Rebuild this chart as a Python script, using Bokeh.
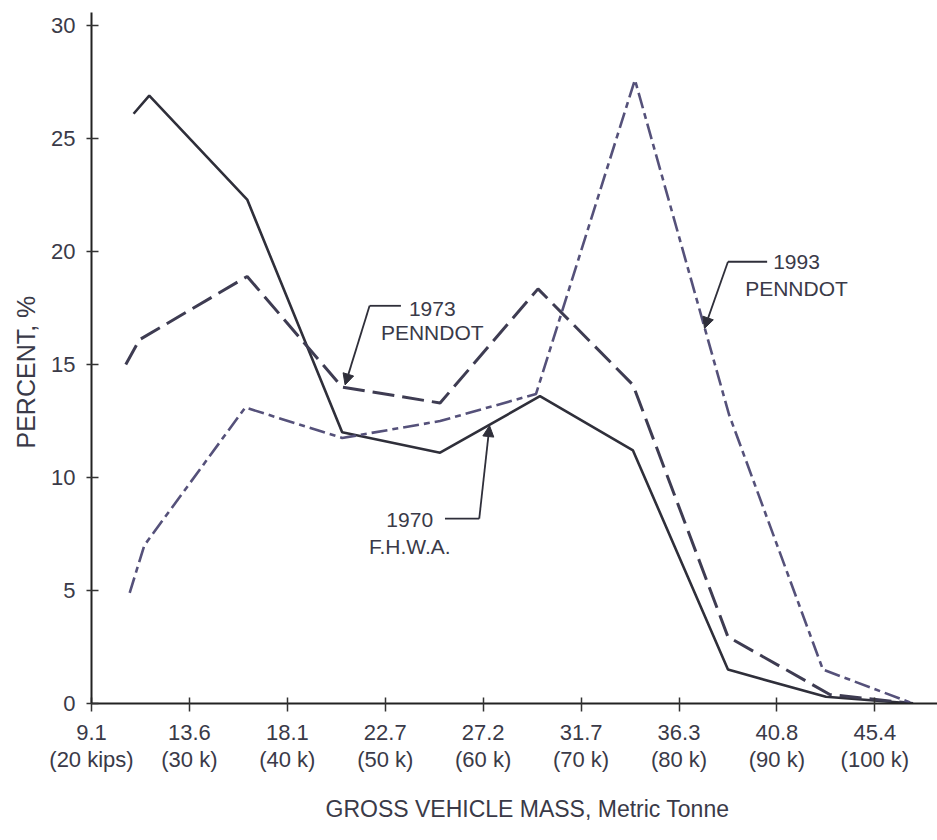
from bokeh.plotting import figure
from bokeh.models import Range1d, FixedTicker, Label, Arrow, NormalHead, Title
from bokeh.embed import file_html
from bokeh.resources import INLINE

# ---- data (x in kips, y in percent) ----
tick_kips = [20, 30, 40, 50, 60, 70, 80, 90, 100]
tick_tonne = ["9.1", "13.6", "18.1", "22.7", "27.2", "31.7", "36.3", "40.8", "45.4"]
tick_kip_text = ["(20 kips)", "(30 k)", "(40 k)", "(50 k)", "(60 k)", "(70 k)", "(80 k)", "(90 k)", "(100 k)"]
y_ticks = [0, 5, 10, 15, 20, 25, 30]

x_1970 = [24.3, 25.9, 35.9, 45.6, 55.6, 65.8, 75.3, 85.0, 95.0, 103.9]
y_1970 = [26.1, 26.9, 22.3, 12.0, 11.1, 13.6, 11.2, 1.5, 0.3, 0.0]

x_1973 = [23.5, 24.9, 35.9, 45.6, 55.6, 65.6, 75.3, 85.0, 95.4, 103.9]
y_1973 = [15.0, 16.1, 18.9, 14.0, 13.3, 18.35, 14.1, 2.95, 0.4, 0.0]

x_1993 = [23.9, 25.4, 35.7, 45.6, 55.6, 65.4, 75.5, 85.1, 94.7, 103.9]
y_1993 = [4.9, 7.0, 13.1, 11.75, 12.5, 13.7, 27.6, 12.8, 1.5, 0.0]

FONT = "Liberation Sans"
INK = "#2f2f3a"
TXT = "#3a3a48"

p = figure(width=937, height=840,
           x_range=Range1d(20, 106.4), y_range=Range1d(0, 30.58),
           output_backend="svg", toolbar_location=None,
           min_border_left=91, min_border_right=0,
           min_border_top=12, min_border_bottom=137)
p.outline_line_color = None
p.xgrid.visible = False
p.ygrid.visible = False
p.background_fill_color = "white"
p.border_fill_color = "white"

# axes
for ax in (p.xaxis[0], p.yaxis[0]):
    ax.axis_line_width = 2
    ax.axis_line_color = "#222222"
    ax.major_tick_line_color = "#333333"
    ax.major_tick_line_width = 1.5
    ax.minor_tick_line_color = None
    ax.major_label_text_font = FONT
    ax.major_label_text_font_size = "22px"
    ax.major_label_text_color = TXT

p.xaxis.ticker = FixedTicker(ticks=tick_kips)
p.xaxis.major_label_overrides = {k: f"{a}\n{b}" for k, a, b in zip(tick_kips, tick_tonne, tick_kip_text)}
p.xaxis.major_tick_in = 6
p.xaxis.major_tick_out = 8
p.xaxis.major_label_standoff = 8
p.xaxis.major_label_text_line_height = 1.1

p.yaxis.ticker = FixedTicker(ticks=y_ticks)
p.yaxis.major_tick_in = 7
p.yaxis.major_tick_out = 5
p.yaxis.major_label_standoff = 11

# series
p.line(x_1970, y_1970, line_color=INK, line_width=2.6)
p.line(x_1973, y_1973, line_color="#3e3c52", line_width=3, line_dash="22 8")
p.line(x_1993, y_1993, line_color="#55517a", line_width=2.6, line_dash="16 5 6 5")

# axis titles
p.add_layout(Title(text="GROSS VEHICLE MASS, Metric Tonne", align="left", offset=234,
                   text_font=FONT, text_font_size="23px",
                   text_font_style="normal", text_color=TXT, standoff=37), "below")
p.add_layout(Title(text="PERCENT, %", align="left", offset=255,
                   text_font=FONT, text_font_size="25px",
                   text_font_style="normal", text_color=TXT, standoff=18), "left")

# annotations
def note(lines, cx, cys, hx0, hx1, hy, tipx, tipy):
    for t, cy in zip(lines, cys):
        p.add_layout(Label(x=cx, y=cy, text=t, text_font=FONT, text_font_size="21px",
                           text_color=TXT, text_align="center", text_baseline="middle"))
    p.add_layout(Arrow(x_start=hx0, y_start=hy, x_end=hx1, y_end=hy, end=None,
                       line_color=INK, line_width=1.8))
    p.add_layout(Arrow(x_start=hx1, y_start=hy, x_end=tipx, y_end=tipy,
                       end=NormalHead(size=11, fill_color=INK, line_color=INK, line_width=1),
                       line_color=INK, line_width=1.8))

note(["1973", "PENNDOT"], 54.8, [17.48, 16.44], 51.6, 48.4, 17.6, 45.9, 14.1)
note(["1993", "PENNDOT"], 92.0, [19.53, 18.38], 89.0, 85.0, 19.55, 82.6, 16.6)
note(["1970", "F.H.W.A."], 52.5, [8.14, 6.93], 56.1, 59.6, 8.18, 60.65, 12.3)

open("out.html", "w").write(file_html(p, INLINE))
